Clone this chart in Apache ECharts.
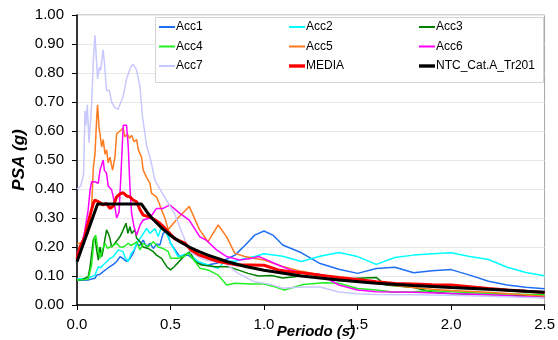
<!DOCTYPE html>
<html>
<head>
<meta charset="utf-8">
<script src="https://cdn.jsdelivr.net/npm/echarts@6/dist/echarts.min.js"></script>
<style>
  html, body { margin: 0; padding: 0; background: #fff; }
  #chart { width: 558px; height: 340px; }
</style>
</head>
<body>
<div id="chart"></div>
<script>
// Response spectra: period (s) vs pseudo-spectral acceleration (g)
const seriesNames = ['Acc1', 'Acc2', 'Acc3', 'Acc4', 'Acc5', 'Acc6', 'Acc7', 'MEDIA', 'NTC_Cat.A_Tr201'];
const seriesColors = ['#1f6ff5', '#00ffff', '#008000', '#22ee22', '#ff7a1f', '#ff00ff', '#c8c8ff', '#ff0000', '#000000'];

const acc1 = [[0,0.085],[0.03,0.085],[0.06,0.086],[0.08,0.09],[0.096,0.092],[0.105,0.103],[0.12,0.105],[0.14,0.115],[0.16,0.125],[0.176,0.132],[0.195,0.14],[0.212,0.15],[0.23,0.167],[0.247,0.16],[0.265,0.15],[0.283,0.16],[0.30,0.178],[0.32,0.213],[0.335,0.205],[0.354,0.224],[0.372,0.20],[0.39,0.213],[0.408,0.195],[0.425,0.21],[0.443,0.207],[0.46,0.247],[0.48,0.255],[0.50,0.213],[0.55,0.167],[0.595,0.172],[0.65,0.144],[0.70,0.138],[0.75,0.145],[0.79,0.155],[0.845,0.172],[0.90,0.207],[0.95,0.241],[1.0,0.255],[1.05,0.24],[1.1,0.207],[1.2,0.18],[1.3,0.143],[1.4,0.123],[1.5,0.109],[1.6,0.126],[1.7,0.13],[1.8,0.111],[1.9,0.118],[2.0,0.122],[2.1,0.103],[2.2,0.082],[2.3,0.069],[2.4,0.061],[2.5,0.056]];

const acc2 = [[0,0.09],[0.05,0.092],[0.08,0.098],[0.096,0.103],[0.114,0.132],[0.125,0.128],[0.14,0.138],[0.16,0.15],[0.175,0.16],[0.194,0.167],[0.21,0.18],[0.22,0.19],[0.245,0.185],[0.26,0.16],[0.274,0.15],[0.29,0.178],[0.305,0.19],[0.319,0.213],[0.345,0.236],[0.372,0.264],[0.39,0.247],[0.417,0.264],[0.434,0.236],[0.452,0.27],[0.47,0.26],[0.50,0.215],[0.54,0.167],[0.595,0.178],[0.648,0.15],[0.70,0.138],[0.755,0.127],[0.79,0.15],[0.85,0.152],[0.90,0.161],[0.95,0.167],[1.0,0.177],[1.1,0.168],[1.2,0.15],[1.3,0.168],[1.4,0.181],[1.5,0.167],[1.6,0.14],[1.7,0.164],[1.8,0.172],[1.9,0.177],[2.0,0.18],[2.1,0.167],[2.2,0.157],[2.3,0.13],[2.4,0.112],[2.5,0.101]];

const acc3 = [[0,0.086],[0.03,0.088],[0.06,0.098],[0.07,0.132],[0.087,0.224],[0.096,0.236],[0.105,0.19],[0.114,0.155],[0.123,0.20],[0.132,0.167],[0.14,0.19],[0.15,0.23],[0.158,0.259],[0.167,0.247],[0.176,0.23],[0.185,0.20],[0.203,0.213],[0.23,0.236],[0.247,0.259],[0.262,0.282],[0.272,0.247],[0.283,0.27],[0.292,0.247],[0.31,0.259],[0.319,0.23],[0.337,0.218],[0.354,0.20],[0.38,0.195],[0.408,0.184],[0.425,0.172],[0.452,0.161],[0.48,0.132],[0.50,0.121],[0.52,0.132],[0.577,0.172],[0.604,0.184],[0.63,0.15],[0.666,0.138],[0.74,0.132],[0.81,0.132],[0.86,0.121],[0.915,0.109],[0.97,0.10],[1.04,0.102],[1.1,0.093],[1.2,0.1],[1.3,0.093],[1.4,0.085],[1.5,0.092],[1.6,0.095],[1.65,0.069],[1.8,0.06],[1.9,0.045],[2.0,0.039],[2.2,0.035],[2.5,0.03]];

const acc4 = [[0,0.086],[0.04,0.088],[0.06,0.09],[0.078,0.138],[0.091,0.224],[0.10,0.241],[0.11,0.2],[0.123,0.161],[0.135,0.19],[0.15,0.213],[0.163,0.195],[0.176,0.20],[0.19,0.205],[0.212,0.213],[0.23,0.2],[0.247,0.20],[0.26,0.205],[0.274,0.213],[0.29,0.205],[0.319,0.218],[0.337,0.19],[0.354,0.213],[0.38,0.20],[0.408,0.218],[0.434,0.20],[0.46,0.195],[0.488,0.184],[0.50,0.161],[0.54,0.161],[0.577,0.169],[0.595,0.18],[0.625,0.155],[0.657,0.127],[0.70,0.121],[0.755,0.103],[0.80,0.069],[0.844,0.075],[0.933,0.072],[1.0,0.072],[1.058,0.063],[1.11,0.052],[1.21,0.071],[1.32,0.077],[1.4,0.075],[1.5,0.057],[1.6,0.052],[1.7,0.044],[1.8,0.046],[1.9,0.05],[2.0,0.046],[2.2,0.04],[2.5,0.035]];

const acc5 = [[0,0.21],[0.02,0.215],[0.034,0.22],[0.06,0.248],[0.078,0.33],[0.087,0.47],[0.096,0.52],[0.105,0.64],[0.11,0.69],[0.118,0.61],[0.125,0.58],[0.132,0.545],[0.14,0.57],[0.15,0.52],[0.158,0.535],[0.167,0.49],[0.176,0.51],[0.19,0.465],[0.203,0.51],[0.212,0.59],[0.23,0.60],[0.247,0.61],[0.256,0.58],[0.269,0.59],[0.28,0.575],[0.292,0.585],[0.305,0.563],[0.319,0.57],[0.328,0.535],[0.345,0.51],[0.354,0.465],[0.372,0.44],[0.39,0.42],[0.399,0.385],[0.425,0.373],[0.44,0.35],[0.452,0.328],[0.47,0.30],[0.488,0.26],[0.54,0.30],[0.60,0.34],[0.655,0.26],[0.70,0.218],[0.755,0.276],[0.80,0.235],[0.844,0.178],[0.897,0.167],[0.95,0.16],[1.0,0.155],[1.1,0.133],[1.2,0.116],[1.3,0.104],[1.4,0.093],[1.5,0.086],[1.6,0.077],[1.7,0.067],[1.8,0.06],[1.9,0.054],[2.0,0.05],[2.2,0.044],[2.5,0.03]];

const acc6 = [[0,0.18],[0.02,0.2],[0.04,0.25],[0.06,0.33],[0.07,0.397],[0.078,0.425],[0.096,0.425],[0.105,0.43],[0.114,0.42],[0.123,0.465],[0.132,0.47],[0.14,0.50],[0.146,0.465],[0.158,0.454],[0.167,0.41],[0.185,0.397],[0.194,0.373],[0.212,0.30],[0.225,0.32],[0.235,0.45],[0.247,0.62],[0.265,0.62],[0.274,0.546],[0.283,0.408],[0.292,0.316],[0.305,0.27],[0.319,0.241],[0.337,0.276],[0.354,0.293],[0.39,0.30],[0.425,0.333],[0.46,0.333],[0.497,0.345],[0.55,0.316],[0.60,0.293],[0.657,0.235],[0.69,0.224],[0.746,0.19],[0.80,0.167],[0.87,0.155],[0.93,0.16],[0.97,0.167],[1.0,0.16],[1.075,0.138],[1.14,0.121],[1.2,0.111],[1.3,0.105],[1.4,0.069],[1.5,0.052],[1.6,0.046],[1.8,0.044],[2.0,0.04],[2.2,0.035],[2.5,0.026]];

const acc7 = [[0,0.40],[0.02,0.41],[0.035,0.45],[0.043,0.67],[0.048,0.62],[0.055,0.69],[0.064,0.56],[0.078,0.69],[0.088,0.85],[0.096,0.93],[0.11,0.78],[0.12,0.82],[0.127,0.81],[0.139,0.88],[0.146,0.84],[0.158,0.74],[0.173,0.74],[0.185,0.70],[0.203,0.68],[0.22,0.675],[0.247,0.72],[0.265,0.78],[0.287,0.82],[0.30,0.83],[0.319,0.81],[0.337,0.75],[0.35,0.65],[0.372,0.55],[0.394,0.50],[0.417,0.43],[0.452,0.39],[0.48,0.36],[0.52,0.317],[0.577,0.224],[0.61,0.18],[0.684,0.155],[0.79,0.145],[0.86,0.11],[0.95,0.08],[1.03,0.072],[1.1,0.058],[1.2,0.062],[1.3,0.062],[1.4,0.045],[1.5,0.039],[1.6,0.036],[1.8,0.035],[2.0,0.034],[2.2,0.03],[2.5,0.024]];

const media = [[0,0.16],[0.016,0.20],[0.043,0.236],[0.05,0.259],[0.07,0.31],[0.087,0.35],[0.096,0.362],[0.105,0.362],[0.123,0.353],[0.14,0.345],[0.158,0.35],[0.176,0.333],[0.194,0.341],[0.212,0.373],[0.23,0.383],[0.247,0.387],[0.265,0.376],[0.283,0.373],[0.30,0.362],[0.319,0.356],[0.337,0.328],[0.354,0.31],[0.39,0.303],[0.425,0.29],[0.443,0.282],[0.47,0.265],[0.523,0.228],[0.577,0.213],[0.61,0.19],[0.648,0.174],[0.70,0.162],[0.755,0.15],[0.808,0.144],[0.86,0.138],[0.933,0.138],[1.0,0.137],[1.075,0.121],[1.14,0.115],[1.2,0.111],[1.3,0.103],[1.4,0.095],[1.5,0.088],[1.6,0.08],[1.7,0.074],[1.8,0.072],[1.9,0.07],[2.0,0.069],[2.1,0.063],[2.2,0.057],[2.3,0.052],[2.5,0.043]];

const ntc = [[0,0.149],[0.11,0.348],[0.345,0.348],[0.375,0.32],[0.40,0.30],[0.45,0.267],[0.50,0.24],[0.55,0.218],[0.60,0.20],[0.65,0.185],[0.70,0.172],[0.80,0.15],[0.90,0.133],[1.0,0.12],[1.2,0.10],[1.4,0.086],[1.6,0.075],[1.8,0.067],[2.0,0.06],[2.2,0.054],[2.4,0.047],[2.5,0.044]];

const seriesData = [acc1, acc2, acc3, acc4, acc5, acc6, acc7, media, ntc];
const lineWidths = [1.5, 1.5, 1.5, 1.5, 1.5, 1.5, 1.5, 3, 3];

const FONT = '"Liberation Sans", Arial, sans-serif';

// short horizontal strokes used as legend keys (thin and thick variants)
const THIN_KEY = 'path://M0,0 L16,0 L16,2 L0,2 Z';
const THICK_KEY = 'path://M0,0 L16,0 L16,3.4 L0,3.4 Z';

const chart = echarts.init(document.getElementById('chart'), null, { renderer: 'canvas' });

// legend laid out as three columns inside one framed box
const legendCols = [
  { left: 159, names: ['Acc1', 'Acc4', 'Acc7'] },
  { left: 289, names: ['Acc2', 'Acc5', 'MEDIA'] },
  { left: 419, names: ['Acc3', 'Acc6', 'NTC_Cat.A_Tr201'] }
];

chart.setOption({
  animation: false,
  backgroundColor: '#ffffff',
  textStyle: { fontFamily: FONT },
  grid: {
    left: 77, right: 13, top: 15, bottom: 35,
    show: true, borderColor: '#a6a6a6', borderWidth: 1, backgroundColor: 'transparent'
  },
  legend: legendCols.map(c => ({
    data: c.names.map(n => ({
      name: n,
      icon: lineWidths[seriesNames.indexOf(n)] > 2 ? THICK_KEY : THIN_KEY
    })),
    orient: 'vertical',
    left: c.left,
    top: 21,
    z: 20,
    itemWidth: 16,
    itemHeight: 14,
    itemGap: 7.5,
    padding: 0,
    symbolKeepAspect: true,
    selectedMode: false,
    textStyle: { fontFamily: FONT, fontSize: 12, color: '#000', padding: [0, 0, 0, -4] }
  })),
  graphic: [
    {
      type: 'rect', z: 15,
      shape: { x: 155.5, y: 17.5, width: 388, height: 65 },
      style: { fill: '#ffffff', stroke: '#d4d4d4', lineWidth: 1 }
    },
    {
      type: 'text', z: 20,
      x: 19, y: 160, rotation: Math.PI / 2,
      style: {
        text: 'PSA (g)', font: 'italic bold 17px ' + FONT,
        fill: '#000', align: 'center', verticalAlign: 'middle'
      }
    },
    {
      type: 'text', z: 20,
      x: 316, y: 332,
      style: {
        text: 'Periodo (s)', font: 'italic bold 15px ' + FONT,
        fill: '#000', align: 'center', verticalAlign: 'middle'
      }
    }
  ],
  xAxis: {
    type: 'value', min: 0, max: 2.5, interval: 0.5,
    axisLine: { onZero: false, lineStyle: { color: '#000', width: 1.5 } },
    axisTick: { show: true, inside: false, length: 5, lineStyle: { color: '#000' } },
    axisLabel: { fontSize: 15, color: '#000', margin: 12, formatter: v => v.toFixed(1) },
    splitLine: { show: false }
  },
  yAxis: {
    type: 'value', min: 0, max: 1, interval: 0.1,
    axisLine: { show: true, onZero: false, lineStyle: { color: '#000', width: 1.5 } },
    axisTick: { show: true, inside: false, length: 5, lineStyle: { color: '#000' } },
    axisLabel: { fontSize: 15, color: '#000', margin: 13, formatter: v => v.toFixed(2) },
    splitLine: { show: true, lineStyle: { color: '#e8e8e8', width: 1 } }
  },
  series: seriesNames.map((name, i) => ({
    name,
    type: 'line',
    data: seriesData[i],
    showSymbol: false,
    symbol: 'none',
    clip: true,
    color: seriesColors[i],
    lineStyle: { color: seriesColors[i], width: lineWidths[i] },
    z: 2 + i
  }))
});
</script>
</body>
</html>
